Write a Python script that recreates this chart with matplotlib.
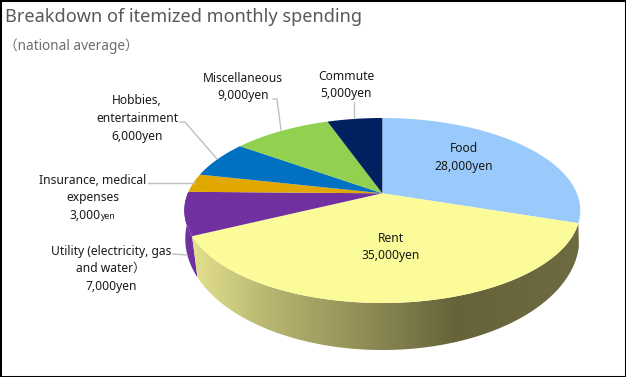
import numpy as np
import matplotlib
matplotlib.use("Agg")
import matplotlib.pyplot as plt
from matplotlib.colors import LinearSegmentedColormap
from matplotlib.patches import Polygon

plt.rcParams['font.family'] = ['Noto Sans', 'Noto Sans CJK JP', 'DejaVu Sans']

# spending in yen, clockwise from 12 o'clock
categories = ['Food', 'Rent', 'Utility (electricity, gas\nand water）', 'Insurance, medical\nexpenses',
              'Hobbies,\nentertainment', 'Miscellaneous', 'Commute']
amounts = [28000, 35000, 7000, 3000, 6000, 9000, 5000]
colors = ['#99CAFB', '#FCFB99', '#7030A0', '#E0A800', '#0070C0', '#92D050', '#002060']

title = 'Breakdown of itemized monthly spending'
subtitle = '（national average）'

# label centre (x, y of first line) in pixels
label_pos = [(464, 149), (391, 238), (111, 251), (93, 180), (137, 101), (243, 78), (346, 76)]
# leader lines
leaders = [None, None,
           [(173, 254), (187, 255)],
           [(148, 183), (195, 183)],
           [(180, 122), (185, 122), (217, 159)],
           [(273, 99), (277, 99), (281, 130)],
           [(354, 102), (354, 118)]]

LINE_H = 17.7
CX, CY = 382.3, 193.3
BOTTOM_SKEW = np.radians(3.9)


def project(theta, b=194.5, a=89.3, k=0.186, cx=CX, cy=CY):
    # circle -> perspective ellipse, theta clockwise from the top
    w = 1 + k * np.cos(theta)
    return cx + b * np.sin(theta) / w, cy - a * np.cos(theta) / w


def project_bottom(theta):
    return project(theta - BOTTOM_SKEW, b=193.6, a=107.3, cx=CX, cy=218.2)


def arc(start, end):
    return np.linspace(start, end, max(int((end - start) * 80), 3))


def rim_side(start, end):
    t = arc(start, end)
    x1, y1 = project(t)
    x2, y2 = project_bottom(t)
    return np.column_stack([np.r_[x1, x2[::-1]], np.r_[y1, y2[::-1]]])


fig = plt.figure(figsize=(6.26, 3.77), dpi=100)
ax = fig.add_axes([0, 0, 1, 1])
ax.set_xlim(0, 626)
ax.set_ylim(377, 0)
ax.set_xticks([])
ax.set_yticks([])
for s in ax.spines.values():
    s.set_linewidth(2.2)
    s.set_color('black')

edges = np.r_[0, np.cumsum(amounts)] / sum(amounts) * 2 * np.pi

# side walls: rent with its shaded gradient, utility plain
side_utility = Polygon(rim_side(edges[2], edges[3]), closed=True, fc=colors[2], ec='none', zorder=2)
ax.add_patch(side_utility)
shade = LinearSegmentedColormap.from_list('rent_side', [(0, '#E4E28E'), (0.2, '#B8B670'), (0.45, '#8F8D56'),
                                                        (0.68, '#66633A'), (1, '#6E6B42')])
side_rent = Polygon(rim_side(edges[1], edges[2]), closed=True, fc='none', ec='none', zorder=3)
ax.add_patch(side_rent)
im = ax.imshow(np.linspace(0, 1, 256)[None, :], cmap=shade, extent=(190, 580, 377, 0), aspect='auto', zorder=3)
im.set_clip_path(side_rent)

# top face
for i, col in enumerate(colors):
    t = arc(edges[i], edges[i + 1])
    x, y = project(t)
    ax.fill(np.r_[CX, x], np.r_[CY, y], color=col, lw=0, zorder=4)

# labels
for i, name in enumerate(categories):
    lx, ly = label_pos[i]
    lines = name.split('\n')
    for j, line in enumerate(lines):
        ax.text(lx, ly + j * LINE_H, line, ha='center', va='center', fontsize=8.7, color='#1A1A1A', zorder=6)
    val_y = ly + len(lines) * LINE_H
    num = f'{amounts[i]:,}'
    if categories[i].startswith('Insurance'):
        # the small "yen" on this one
        ax.text(lx + 8, val_y, num, ha='right', va='center', fontsize=8.7, color='#1A1A1A', zorder=6)
        ax.text(lx + 8, val_y + 1, 'yen', ha='left', va='center', fontsize=6.2, color='#1A1A1A', zorder=6)
    else:
        ax.text(lx, val_y, num + 'yen', ha='center', va='center', fontsize=8.7, color='#1A1A1A', zorder=6)
    if leaders[i]:
        px, py = zip(*leaders[i])
        ax.plot(px, py, color='#BFBFBF', lw=1, zorder=5)

ax.text(5, 17, title, ha='left', va='center', fontsize=13.1, color='#595959')
ax.text(4, 46, subtitle, ha='left', va='center', fontsize=9.8, color='#6E6E6E')

ax.set_xlim(0, 626)
ax.set_ylim(377, 0)
fig.savefig('out.png', dpi=100)
